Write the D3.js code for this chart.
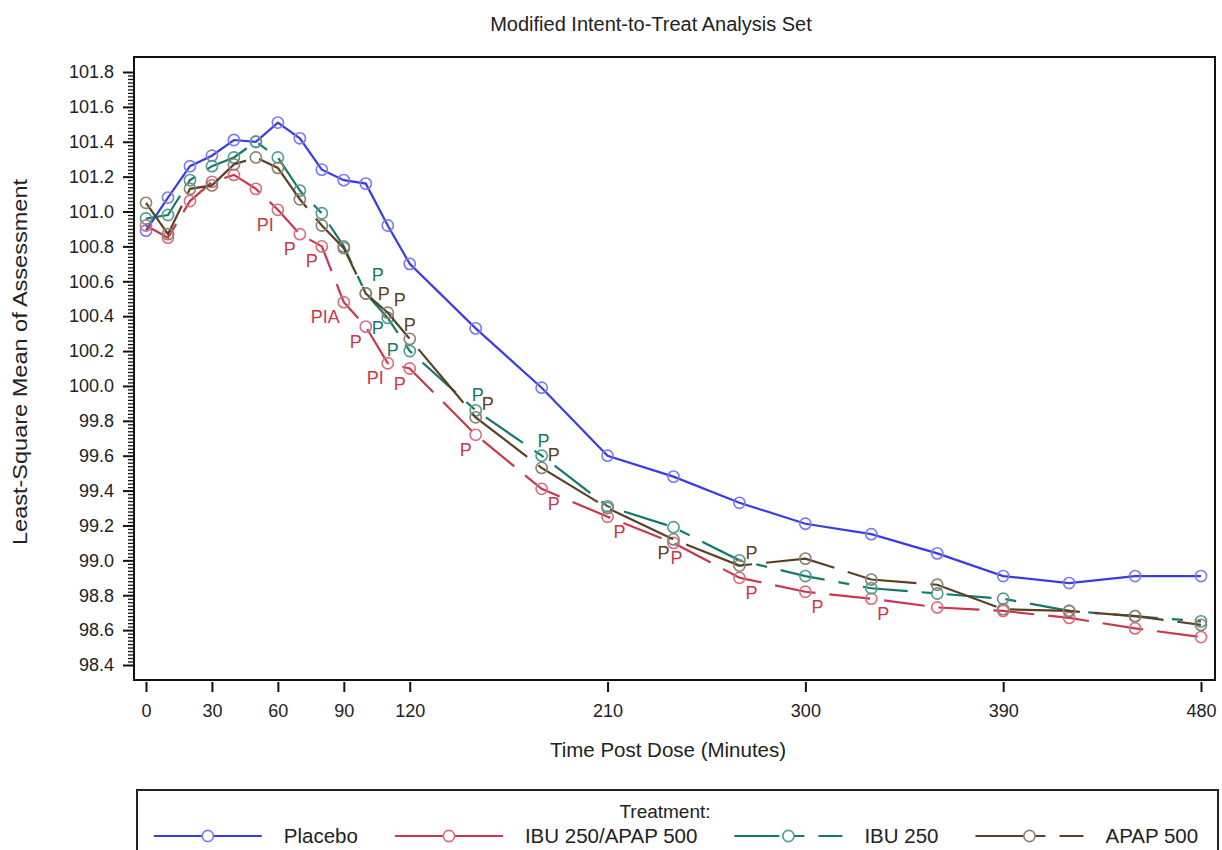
<!DOCTYPE html>
<html><head><meta charset="utf-8">
<script src="https://cdn.jsdelivr.net/npm/d3@7/dist/d3.min.js"></script>
<style>
body{margin:0;background:#fff}
svg{display:block}
</style>
</head><body><svg id="c" width="1222" height="850"></svg>
<script>
// ---------- data ----------
const times = [0,10,20,30,40,50,60,70,80,90,100,110,120,150,180,210,240,270,300,330,360,390,420,450,480];
const placebo = [100.89,101.08,101.26,101.32,101.41,101.40,101.51,101.42,101.24,101.18,101.16,100.92,100.70,100.33,99.99,99.60,99.48,99.33,99.21,99.15,99.04,98.91,98.87,98.91,98.91];
const ibuApap = [100.92,100.85,101.06,101.17,101.21,101.13,101.01,100.87,100.80,100.48,100.34,100.13,100.10,99.72,99.41,99.25,99.10,98.90,98.82,98.78,98.73,98.71,98.67,98.61,98.56];
const ibu     = [100.96,100.98,101.18,101.26,101.31,101.40,101.31,101.12,100.99,100.80,100.53,100.39,100.20,99.86,99.60,99.31,99.19,99.00,98.91,98.84,98.81,98.78,98.71,98.68,98.65];
const apap    = [101.05,100.87,101.13,101.15,101.27,101.31,101.25,101.07,100.92,100.79,100.53,100.42,100.27,99.82,99.53,99.30,99.12,98.97,99.01,98.89,98.86,98.72,98.71,98.68,98.63];
const labelsPlacebo = times.map(() => "");
const labelsIbuApap = ["","","","","","","PI","P","P","PIA","P","PI","P","P","P","P","P","P","P","P","","","","",""];
const labelsIbu     = ["","","","","","","","","","","P","P","P","P","P","","","","","","","","","",""];
const labelsApap    = ["","","","","","","","","","","P","P","P","P","P","","P","P","","","","","","",""];
const seriesNames = ["Placebo","IBU 250/APAP 500","IBU 250","APAP 500"];
const xTicks = [0,30,60,90,120,210,300,390,480];
const yTicks = [98.4,98.6,98.8,99.0,99.2,99.4,99.6,99.8,100.0,100.2,100.4,100.6,100.8,101.0,101.2,101.4,101.6,101.8];
const titleText = "Modified Intent-to-Treat Analysis Set";
const xTitle = "Time Post Dose (Minutes)";
const yTitle = "Least-Square Mean of Assessment";
const legendTitle = "Treatment:";

// ---------- styles ----------
const FONT = '"Liberation Sans", Arial, sans-serif';
const colors = ["#3b3be6","#c8374d","#16786b","#5b4124"];
const markerColors = ["#7a7af0","#dc6c7e","#4f9c90","#8f8070"];
const dashes = [null,"41,14","45,14,11,14","70,14"];
const legendDashes = [null,null,"45,14,11,14","70,14"];

const svg = d3.select("#c");
const frame = {l:134, t:57, r:1215, b:680};
const x = d3.scaleLinear().domain([0,480]).range([146,1201]);
const y = d3.scaleLinear().domain([98.4,101.8]).range([665,72]);

// title
svg.append("text").attr("x",651).attr("y",31).attr("text-anchor","middle")
  .attr("font-family",FONT).attr("font-size",20).attr("fill","#222").text(titleText);

// frame
svg.append("rect").attr("x",frame.l).attr("y",frame.t)
  .attr("width",frame.r-frame.l).attr("height",frame.b-frame.t)
  .attr("fill","none").attr("stroke","#111").attr("stroke-width",2);

// y axis minor ticks
const minor = d3.range(0,171).map(i => +(98.4 + i*0.02).toFixed(2)).filter((v,i) => i % 10 !== 0);
const yMinor = svg.append("g").attr("transform",`translate(${frame.l-1},0)`)
  .call(d3.axisLeft(y).tickValues(minor).tickSize(5).tickFormat(""));
yMinor.select(".domain").remove();
yMinor.selectAll("line").attr("stroke","#111").attr("stroke-width",1.3);

// y axis major
const yAx = svg.append("g").attr("transform",`translate(${frame.l-1},0)`)
  .call(d3.axisLeft(y).tickValues(yTicks).tickSize(10).tickPadding(9).tickFormat(d3.format(".1f")));
yAx.select(".domain").remove();
yAx.selectAll("line").attr("stroke","#111").attr("stroke-width",2);
yAx.selectAll("text").attr("font-family",FONT).attr("font-size",18).attr("fill","#222");

// x axis
const xAx = svg.append("g").attr("transform",`translate(0,${frame.b+2})`)
  .call(d3.axisBottom(x).tickValues(xTicks).tickSize(10).tickPadding(12));
xAx.select(".domain").remove();
xAx.selectAll("line").attr("stroke","#111").attr("stroke-width",2);
xAx.selectAll("text").attr("font-family",FONT).attr("font-size",18).attr("fill","#222");

// axis titles
svg.append("text").attr("x",668).attr("y",757).attr("text-anchor","middle")
  .attr("font-family",FONT).attr("font-size",20.5).attr("fill","#222").text(xTitle);
svg.append("text").attr("transform","translate(27,362) rotate(-90)").attr("text-anchor","middle")
  .attr("font-family",FONT).attr("font-size",20).attr("fill","#222")
  .attr("textLength",366).attr("lengthAdjust","spacingAndGlyphs").text(yTitle);

// series
const seriesVals = [placebo, ibuApap, ibu, apap];
const seriesLabels = [labelsPlacebo, labelsIbuApap, labelsIbu, labelsApap];
const line = d3.line().x(d => x(d.t)).y(d => y(d.v));
const plot = svg.append("g");
seriesVals.forEach((vals, i) => {
  const pts = times.map((t,k) => ({t, v: vals[k], lab: seriesLabels[i][k]}));
  plot.append("path").datum(pts).attr("d",line).attr("fill","none")
    .attr("stroke",colors[i]).attr("stroke-width",2.2)
    .attr("stroke-dasharray",dashes[i]);
  plot.selectAll(null).data(pts).enter().append("circle")
    .attr("cx",d => x(d.t)).attr("cy",d => y(d.v)).attr("r",5.6)
    .attr("fill","none").attr("stroke",markerColors[i]).attr("stroke-width",1.6);
});

// data labels: placement rule per series
function place(i, t) {
  if (i === 1) { // below, left early / right later
    if (t <= 150) return {dx:-4, dy:21, anchor:"end"};
    if (t === 240) return {dx:-3, dy:21, anchor:"start"};
    return {dx:6, dy:21, anchor:"start"};
  }
  if (i === 2) {
    if (t === 100) return {dx:6, dy:-13, anchor:"start"};
    if (t === 110) return {dx:-4, dy:16, anchor:"end"};
    if (t === 120) return {dx:-11, dy:5, anchor:"end"};
    return {dx:2, dy:-9, anchor:"middle"};
  }
  if (i === 3) {
    if (t === 100) return {dx:12, dy:6, anchor:"start"};
    if (t === 120) return {dx:0, dy:-8, anchor:"middle"};
    if (t === 240) return {dx:-4, dy:20, anchor:"end"};
    return {dx:6, dy:-7, anchor:"start"};
  }
  return {dx:6, dy:-7, anchor:"start"};
}
seriesVals.forEach((vals, i) => {
  times.forEach((t,k) => {
    const lab = seriesLabels[i][k];
    if (!lab) return;
    const p = place(i, t);
    svg.append("text").attr("x", x(t)+p.dx).attr("y", y(vals[k])+p.dy)
      .attr("text-anchor",p.anchor).attr("font-family",FONT).attr("font-size",18)
      .attr("fill",colors[i]).text(lab);
  });
});

// legend
svg.append("rect").attr("x",137).attr("y",790).attr("width",1081).attr("height",80)
  .attr("fill","none").attr("stroke","#222").attr("stroke-width",2);
svg.append("text").attr("x",665).attr("y",818).attr("text-anchor","middle")
  .attr("font-family",FONT).attr("font-size",19).attr("fill","#222").text(legendTitle);
const lg = svg.append("g");
const lineLen = 108, gapText = 22, gapItem = 37, ly = 836;
const items = seriesNames.map((n,i) => {
  const g = lg.append("g");
  const tx = g.append("text").attr("font-family",FONT).attr("font-size",20.5).attr("fill","#222")
    .attr("y",ly+7).attr("x",lineLen+gapText).text(n);
  return {g, w: lineLen+gapText+tx.node().getComputedTextLength(), i};
});
const total = d3.sum(items, d=>d.w) + gapItem*(items.length-1);
let cx = 676 - total/2;
items.forEach(it => {
  it.g.attr("transform",`translate(${cx},0)`);
  it.g.insert("line","text").attr("x1",0).attr("x2",lineLen).attr("y1",ly).attr("y2",ly)
    .attr("stroke",colors[it.i]).attr("stroke-width",2.2).attr("stroke-dasharray",legendDashes[it.i]);
  it.g.append("circle").attr("cx",lineLen/2).attr("cy",ly).attr("r",5.6)
    .attr("fill","#fff").attr("stroke",markerColors[it.i]).attr("stroke-width",1.6);
  cx += it.w + gapItem;
});
</script>
</body></html>
